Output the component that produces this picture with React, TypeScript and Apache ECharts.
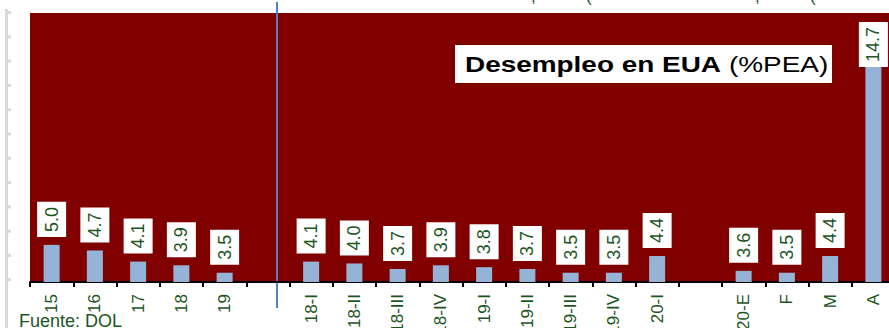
import React, { useEffect, useRef } from "react";
import * as echarts from "echarts";

const categories = ["15", "16", "17", "18", "19", "", "18-I", "18-II", "18-III", "18-IV", "19-I", "19-II", "19-III", "19-IV", "20-I", "", "20-E", "F", "M", "A"];
const values: (number | null)[] = [5.0, 4.7, 4.1, 3.9, 3.5, null, 4.1, 4.0, 3.7, 3.9, 3.8, 3.7, 3.5, 3.5, 4.4, null, 3.6, 3.5, 4.4, 14.7];
const titleBold = "Desempleo en EUA";
const titleRest = " (%PEA)";
const sourceText = "Fuente: DOL";

const FONT = "'Liberation Sans', Arial, sans-serif";
const GREEN = "#1d561d";

export default function App() {
  const ref = useRef<HTMLDivElement>(null);
  useEffect(() => {
    if (!ref.current) return;
    const chart = echarts.init(ref.current, undefined, { renderer: "svg" });

    const grayTicks: any[] = [];
    for (let i = 0; i < 12; i++) {
      grayTicks.push({
        type: "rect",
        shape: { x: 7, y: 11 + i * 24.3, width: 4, height: 3 },
        style: { fill: "#d9d9d9" },
        silent: true,
      });
    }

    const option: any = {
      animation: false,
      textStyle: { fontFamily: FONT },
      grid: {
        left: 30,
        top: 13,
        width: 865,
        bottom: 46,
        show: true,
        backgroundColor: "#800000",
        borderWidth: 0,
        containLabel: false,
        outerBoundsMode: "none",
      },
      xAxis: {
        type: "category",
        data: categories,
        boundaryGap: true,
        axisLine: { show: true, lineStyle: { color: "#000", width: 2 } },
        axisTick: { show: true, length: 5, lineStyle: { color: "#000", width: 2 }, interval: 0 },
        axisLabel: {
          interval: 0,
          rotate: 90,
          margin: 12,
          fontSize: 17,
          color: GREEN,
          fontFamily: FONT,
          hideOverlap: false,
        },
        splitLine: { show: false },
      },
      yAxis: {
        type: "value",
        min: 3,
        max: 17.5,
        show: false,
        splitLine: { show: false },
      },
      series: [
        {
          type: "bar",
          barWidth: 16,
          itemStyle: { color: "#95b3d7" },
          data: values.map((v, i) =>
            i === values.length - 1 ? { value: v, label: { distance: -2 } } : v
          ),
          label: {
            show: true,
            position: "top",
            rotate: 90,
            align: "left",
            verticalAlign: "middle",
            distance: 8,
            fontSize: 18,
            lineHeight: 19,
            fontFamily: FONT,
            color: GREEN,
            backgroundColor: "#ffffff",
            padding: [5, 5, 5, 5],
            formatter: (p: any) => (p.value == null ? "" : Number(p.value).toFixed(1)),
          },
        },
      ],
      graphic: [
        {
          type: "rect",
          shape: { x: 5, y: 9, width: 3, height: 330 },
          style: { fill: "#d9d9d9" },
          silent: true,
        },
        ...grayTicks,
        {
          type: "line",
          shape: { x1: 277, y1: 2, x2: 277, y2: 308 },
          style: { stroke: "#4f81bd", lineWidth: 2 },
          silent: true,
        },
        {
          type: "rect",
          shape: { x: 455, y: 45, width: 377, height: 38 },
          style: { fill: "#ffffff" },
          silent: true,
        },
        {
          type: "text",
          x: 465,
          y: 64,
          scaleX: 1.27,
          style: {
            text: "{b|" + titleBold + "}" + titleRest,
            fontSize: 22,
            fontFamily: FONT,
            fill: "#000",
            verticalAlign: "middle",
            align: "left",
            rich: {
              b: { fontWeight: "bold", fontSize: 22, fontFamily: FONT, fill: "#000" },
            },
          },
          silent: true,
        },
        {
          type: "text",
          x: 19,
          y: 312,
          style: {
            text: sourceText,
            fontSize: 18,
            fontFamily: FONT,
            fill: GREEN,
            verticalAlign: "top",
            align: "left",
          },
          silent: true,
        },
        { type: "text", x: 531, y: 5, style: { text: ",", fontSize: 17, fontFamily: FONT, fill: GREEN, verticalAlign: "bottom" }, silent: true },
        { type: "text", x: 586, y: 5, style: { text: "(", fontSize: 17, fontFamily: FONT, fill: GREEN, verticalAlign: "bottom" }, silent: true },
        { type: "text", x: 755, y: 5, style: { text: ",", fontSize: 17, fontFamily: FONT, fill: GREEN, verticalAlign: "bottom" }, silent: true },
        { type: "text", x: 810, y: 5, style: { text: "(", fontSize: 17, fontFamily: FONT, fill: GREEN, verticalAlign: "bottom" }, silent: true },
      ],
    };
    chart.setOption(option);
    return () => chart.dispose();
  }, []);

  return (
    <div
      ref={ref}
      style={{ position: "fixed", left: 0, top: 0, width: 889, height: 328, background: "#fff" }}
    />
  );
}
